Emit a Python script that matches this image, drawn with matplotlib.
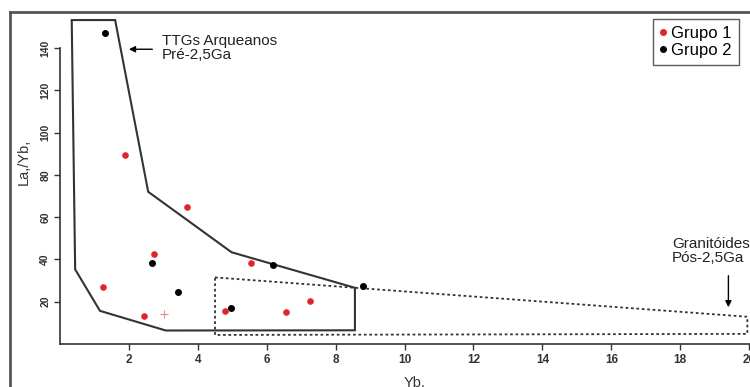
import matplotlib.pyplot as plt
from matplotlib.patches import Polygon

plt.rcParams['font.family'] = ['Liberation Sans', 'DejaVu Sans']

# Grupo 1 (vermelho)
g1_x = [1.89, 3.68, 2.73, 5.54, 1.26, 2.44, 4.79, 6.55, 7.26]
g1_y = [89.4, 64.6, 42.4, 38.2, 27.1, 13.2, 15.7, 15.0, 20.5]
# ponto fraco em forma de cruz
g1_cruz_x = [3.03]
g1_cruz_y = [14.2]

# Grupo 2 (preto)
g2_x = [1.31, 2.66, 3.42, 4.95, 6.19, 8.80]
g2_y = [146.9, 38.2, 24.7, 17.2, 37.2, 27.6]

# campo dos TTGs arqueanos
ttg_x = [0.34, 1.60, 2.56, 4.98, 8.56, 8.56, 3.07, 1.16, 0.44]
ttg_y = [153.2, 153.2, 72.0, 43.4, 26.6, 6.5, 6.4, 15.7, 35.3]

# campo dos granitoides pos-arqueanos
gran_x = [4.5, 19.95, 19.95, 4.5]
gran_y = [31.5, 12.9, 4.8, 4.3]

xticks = [2, 4, 6, 8, 10, 12, 14, 16, 18, 20]
yticks = [20, 40, 60, 80, 100, 120, 140]

fig = plt.figure(figsize=(7.5, 3.87), dpi=100)
ax = fig.add_axes([0.08, 0.111, 0.9647, 0.847])
ax.set_xlim(0, 21)
ax.set_ylim(0, 155)

ax.add_patch(Polygon(list(zip(ttg_x, ttg_y)), closed=True, fill=False,
                     edgecolor='#333333', linewidth=1.5))
ax.add_patch(Polygon(list(zip(gran_x, gran_y)), closed=True, fill=False,
                     edgecolor='#333333', linewidth=1.3, linestyle=(0, (1.5, 1.5))))

ax.scatter(g1_x, g1_y, s=14, color='#e3232c', zorder=3)
ax.scatter(g1_cruz_x, g1_cruz_y, s=40, marker='+', color='#e88a8a', linewidths=0.8, zorder=3)
ax.scatter(g2_x, g2_y, s=16, color='black', zorder=3)

ax.spines['top'].set_visible(False)
ax.spines['right'].set_visible(False)
ax.spines['left'].set_bounds(0, 140)
for s in ['left', 'bottom']:
    ax.spines[s].set_color('#333333')
    ax.spines[s].set_linewidth(1.2)

ax.set_xticks(xticks)
ax.set_yticks(yticks)
ax.tick_params(axis='x', length=4, width=1, color='#333333', labelsize=8.5, pad=3)
ax.tick_params(axis='y', length=4, width=1, color='#333333', labelsize=7.5, pad=3)
for lb in ax.get_xticklabels():
    lb.set_fontweight('bold')
    lb.set_color('#333333')
for lb in ax.get_yticklabels():
    lb.set_rotation(90)
    lb.set_va('center')
    lb.set_fontweight('bold')
    lb.set_color('#333333')

ax.text(-1.05, 86, 'La,/Yb,', rotation=90, ha='center', va='center', fontsize=10.5, color='#333333')
ax.text(10.3, -18.5, 'Yb,', ha='center', va='center', fontsize=10.5, color='#333333')

ax.annotate('', xy=(1.92, 139.4), xytext=(2.76, 139.4),
            arrowprops=dict(arrowstyle='-|>', color='black', lw=1, mutation_scale=9))
ax.text(2.95, 139.8, 'TTGs Arqueanos\nPré-2,5Ga', ha='left', va='center',
        fontsize=11, color='#222222', linespacing=1.0)

ax.annotate('', xy=(19.4, 16.1), xytext=(19.4, 33.6),
            arrowprops=dict(arrowstyle='-|>', color='black', lw=1, mutation_scale=9))
ax.text(17.76, 44.0, 'Granitóides\nPós-2,5Ga', ha='left', va='center',
        fontsize=11, color='#222222', linespacing=1.0)

leg = ax.legend(handles=[
    plt.Line2D([], [], marker='o', linestyle='', color='#e3232c', markersize=4, label='Grupo 1'),
    plt.Line2D([], [], marker='o', linestyle='', color='black', markersize=4, label='Grupo 2')],
    loc='upper left', bbox_to_anchor=(0.8196, 0.992), fontsize=12, frameon=True,
    fancybox=False, handlelength=0.4, handletextpad=0.3, borderpad=0.4, labelspacing=0.15,
    borderaxespad=0)
leg.get_frame().set_edgecolor('#333333')
leg.get_frame().set_linewidth(1)

# moldura externa da figura
fig.add_artist(plt.Line2D([10 / 750, 1.0], [1 - 12 / 387, 1 - 12 / 387],
                          transform=fig.transFigure, color='#555555', lw=2))
fig.add_artist(plt.Line2D([10 / 750, 10 / 750], [0, 1 - 12 / 387],
                          transform=fig.transFigure, color='#555555', lw=2))

fig.savefig('out.png', dpi=100)
